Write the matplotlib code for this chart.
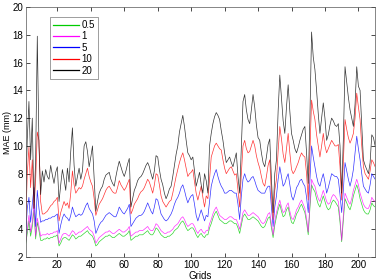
import matplotlib
matplotlib.use('Agg')
import matplotlib.pyplot as plt
import numpy as np

grids = np.arange(1, 211)

mae_20 = [6.0, 10.5, 13.2, 9.0, 12.0, 5.5, 9.0, 17.9, 10.0, 6.5,
          8.2, 7.4, 8.3, 7.8, 7.6, 8.6, 7.9, 7.3, 8.1, 8.5,
          6.0, 7.2, 8.3, 7.6, 6.8, 8.4, 7.4, 9.6, 11.3, 8.6,
          7.1, 7.8, 8.4, 7.6, 8.2, 10.0, 10.3, 9.6, 8.5, 9.2,
          10.0, 7.6, 5.3, 6.0, 6.6, 6.9, 7.1, 7.6, 7.9, 8.0,
          8.1, 7.6, 7.3, 7.1, 7.8, 8.4, 8.9, 8.5, 8.1, 7.8,
          8.2, 8.7, 9.1, 5.6, 6.2, 6.8, 7.1, 7.5, 7.7, 7.8,
          8.0, 8.3, 8.6, 8.8, 8.5, 8.0, 7.6, 8.2, 9.3, 9.2,
          8.3, 7.6, 7.2, 6.6, 6.2, 6.5, 6.9, 7.1, 7.8, 8.6,
          9.4, 10.0, 11.0, 11.6, 12.2, 11.4, 10.4, 9.5, 9.3, 9.0,
          9.2, 8.2, 7.1, 7.6, 8.1, 7.2, 6.6, 8.0, 7.5, 6.6,
          10.0, 10.9, 11.6, 12.1, 12.4, 12.2, 11.9, 11.1, 10.4, 9.5,
          8.8, 9.0, 9.2, 8.8, 8.5, 9.0, 9.5, 7.8, 6.6, 10.0,
          13.2, 13.7, 12.6, 11.9, 11.6, 12.6, 13.7, 12.8, 11.5, 10.6,
          10.4, 9.5, 8.8, 8.5, 9.2, 10.1, 10.5, 7.6, 5.2, 8.0,
          9.0, 12.5, 15.1, 13.5, 11.8, 10.9, 12.8, 14.4, 12.5, 10.9,
          10.4, 9.8, 9.5, 9.9, 10.4, 10.8, 11.2, 11.4, 9.5, 7.3,
          12.0, 18.2, 16.4, 15.5, 14.0, 12.3, 10.9, 12.0, 13.1, 12.0,
          10.4, 10.8, 11.5, 12.0, 11.8, 11.5, 11.4, 11.6, 10.0, 6.6,
          10.5, 15.7, 14.6, 13.5, 12.6, 12.0, 11.4, 13.0, 15.7, 14.3,
          14.0, 11.5, 9.0, 8.6, 8.3, 8.0, 8.8, 10.8, 10.6, 10.0]

mae_10 = [4.0, 8.0, 9.9, 7.0, 9.0, 5.5, 7.5, 11.0, 10.4, 6.0,
          5.1, 5.1, 5.2, 5.3, 5.5, 5.7, 5.8, 6.0, 6.1, 6.3,
          4.6, 5.2, 5.6, 6.0, 5.7, 5.9, 5.5, 6.6, 8.2, 7.2,
          6.6, 6.8, 7.0, 6.9, 7.1, 7.6, 8.0, 8.4, 7.8, 7.4,
          7.1, 6.2, 5.0, 5.4, 5.8, 6.0, 6.2, 6.5, 6.8, 7.0,
          7.1, 6.9, 6.7, 6.6, 6.6, 7.0, 7.5, 7.2, 7.0, 6.8,
          7.0, 7.3, 7.6, 5.1, 5.4, 5.8, 6.0, 6.2, 6.5, 6.7,
          6.8, 7.0, 7.3, 7.6, 7.4, 7.0, 6.6, 7.2, 8.0, 7.9,
          7.2, 6.4, 6.0, 5.8, 5.6, 5.8, 6.0, 6.1, 6.6, 7.2,
          7.8, 8.3, 8.8, 9.2, 9.5, 9.0, 8.4, 7.8, 8.0, 8.1,
          8.3, 7.4, 6.6, 6.1, 6.6, 7.1, 6.3, 5.6, 6.4, 6.2,
          7.6, 9.2, 9.6, 10.0, 10.2, 10.0, 9.8, 9.7, 9.0, 8.4,
          8.0, 8.2, 8.4, 8.5, 8.2, 7.9, 8.0, 6.8, 5.6, 8.0,
          10.0, 10.4, 9.8, 9.5, 9.6, 10.0, 10.4, 10.0, 9.3, 8.8,
          8.4, 7.8, 7.3, 7.1, 7.8, 8.6, 9.0, 6.5, 4.7, 6.8,
          7.6, 9.6, 11.4, 10.5, 9.4, 8.8, 9.8, 10.9, 9.5, 8.3,
          8.0, 8.2, 8.5, 8.8, 9.2, 9.5, 9.3, 9.2, 8.0, 6.1,
          9.5, 13.3, 12.5, 11.9, 10.8, 10.0, 9.2, 10.0, 10.9, 10.0,
          9.5, 9.8, 10.1, 10.4, 10.2, 10.0, 10.0, 10.1, 8.5, 6.1,
          8.8, 11.9, 11.2, 10.6, 10.2, 10.5, 10.9, 12.0, 13.8, 12.8,
          11.9, 10.0, 8.5, 8.0, 7.8, 7.6, 8.2, 9.0, 8.8, 8.5]

mae_5 = [3.5, 5.5, 6.3, 4.5, 5.8, 7.0, 4.2, 6.8, 5.5, 4.5,
         4.6, 4.6, 4.7, 4.7, 4.8, 4.8, 4.9, 4.9, 5.0, 5.1,
         3.7, 4.3, 4.8, 5.1, 4.9, 4.8, 4.6, 5.0, 5.6, 5.2,
         4.9, 5.0, 5.1, 5.0, 5.1, 5.4, 5.7, 5.9, 5.5, 5.3,
         5.1, 4.6, 3.7, 4.0, 4.3, 4.5, 4.6, 4.8, 5.0, 5.1,
         5.2, 5.1, 5.0, 4.9, 4.9, 5.2, 5.6, 5.4, 5.2, 5.1,
         5.3, 5.5, 5.8, 4.2, 4.4, 4.6, 4.8, 4.9, 5.0, 5.0,
         5.1, 5.3, 5.6, 5.9, 5.6, 5.3, 5.1, 5.6, 6.2, 6.1,
         5.6, 5.1, 4.9, 4.7, 4.6, 4.7, 4.9, 5.1, 5.4, 5.8,
         6.1, 6.3, 6.6, 7.0, 7.2, 6.8, 6.3, 5.9, 6.2, 6.4,
         6.5, 5.8, 5.0, 4.6, 5.0, 5.4, 5.0, 4.6, 5.0, 4.9,
         6.0, 7.1, 7.6, 8.0, 8.3, 7.8, 7.4, 7.1, 6.9, 6.6,
         6.6, 6.7, 6.8, 6.8, 6.7, 6.6, 6.6, 5.8, 4.7, 6.4,
         7.6, 8.0, 7.6, 7.4, 7.5, 7.7, 7.8, 7.5, 7.1, 6.8,
         6.7, 6.6, 6.6, 6.6, 6.9, 7.1, 7.1, 5.6, 4.2, 5.6,
         6.4, 7.6, 8.5, 7.8, 7.1, 7.3, 7.7, 8.0, 7.2, 6.4,
         6.1, 6.5, 7.0, 7.2, 7.5, 7.6, 7.3, 7.1, 6.3, 5.2,
         7.5, 10.0, 9.2, 8.5, 7.8, 7.3, 7.1, 7.6, 8.0, 7.4,
         6.6, 7.0, 7.5, 8.0, 7.9, 7.8, 7.8, 7.6, 6.5, 5.2,
         6.8, 8.8, 8.2, 7.6, 7.1, 7.6, 8.3, 9.5, 10.7, 9.8,
         9.0, 8.0, 7.1, 6.9, 6.7, 6.6, 7.2, 8.0, 7.8, 7.6]

mae_1 = [3.0, 4.0, 5.0, 3.8, 4.5, 5.8, 3.5, 4.8, 4.2, 3.5,
         3.6, 3.6, 3.6, 3.7, 3.6, 3.7, 3.7, 3.8, 3.8, 3.9,
         3.0, 3.3, 3.6, 3.7, 3.7, 3.6, 3.5, 3.7, 3.9, 3.8,
         3.6, 3.7, 3.8, 3.8, 3.9, 4.0, 4.1, 4.2, 4.0, 3.9,
         3.8, 3.5, 3.0, 3.2, 3.4, 3.5, 3.6, 3.7, 3.8, 3.8,
         3.9, 3.8, 3.7, 3.7, 3.8, 3.9, 4.0, 3.9, 3.8, 3.8,
         3.9, 4.0, 4.2, 3.5, 3.6, 3.7, 3.8, 3.8, 3.9, 3.9,
         3.9, 4.0, 4.1, 4.2, 4.0, 3.9, 3.9, 4.1, 4.4, 4.3,
         4.1, 3.9, 3.8, 3.7, 3.7, 3.8, 3.8, 3.9, 4.0, 4.2,
         4.3, 4.4, 4.6, 4.8, 4.9, 4.7, 4.4, 4.2, 4.3, 4.4,
         4.4, 4.2, 3.9, 3.7, 3.9, 4.0, 3.8, 3.7, 3.9, 3.9,
         4.4, 4.7, 5.1, 5.4, 5.6, 5.3, 5.0, 4.9, 4.8, 4.7,
         4.7, 4.8, 4.9, 4.9, 4.8, 4.7, 4.7, 4.4, 4.0, 4.6,
         5.2, 5.4, 5.2, 5.0, 5.0, 5.1, 5.2, 5.1, 5.0, 4.9,
         4.7, 4.5, 4.4, 4.5, 4.8, 5.1, 5.2, 4.4, 3.6, 4.6,
         5.2, 5.7, 6.1, 5.6, 5.2, 5.3, 5.7, 5.9, 5.3, 4.8,
         4.7, 5.0, 5.4, 5.6, 5.9, 6.1, 5.8, 5.5, 4.8, 3.8,
         5.8, 7.6, 7.3, 7.1, 6.6, 6.2, 6.0, 6.4, 6.8, 6.4,
         6.0, 5.8, 5.9, 6.3, 6.5, 6.4, 6.2, 6.0, 4.8, 3.2,
         5.0, 6.6, 6.3, 6.0, 5.8, 6.2, 6.8, 7.2, 7.6, 7.2,
         6.6, 6.2, 5.8, 5.6, 5.5, 5.5, 5.8, 6.3, 6.1, 6.0]

mae_05 = [2.9, 3.7, 4.6, 3.5, 4.2, 5.4, 3.3, 4.5, 3.9, 3.2,
          3.2, 3.3, 3.3, 3.4, 3.3, 3.4, 3.4, 3.5, 3.5, 3.6,
          2.8, 3.0, 3.3, 3.4, 3.4, 3.3, 3.2, 3.4, 3.6, 3.5,
          3.3, 3.4, 3.5, 3.5, 3.6, 3.7, 3.8, 3.9, 3.7, 3.6,
          3.5, 3.2, 2.8, 2.9, 3.1, 3.2, 3.3, 3.4, 3.5, 3.5,
          3.6, 3.5, 3.4, 3.4, 3.5, 3.6, 3.7, 3.6, 3.5, 3.5,
          3.6, 3.7, 3.9, 3.2, 3.3, 3.4, 3.5, 3.5, 3.6, 3.6,
          3.6, 3.7, 3.8, 3.9, 3.7, 3.6, 3.6, 3.8, 4.1, 4.0,
          3.8, 3.6, 3.5, 3.4, 3.4, 3.5, 3.5, 3.6, 3.7, 3.9,
          4.0, 4.1, 4.3, 4.5, 4.6, 4.4, 4.1, 3.9, 4.0, 4.1,
          4.1, 3.9, 3.6, 3.4, 3.6, 3.7, 3.5, 3.4, 3.6, 3.6,
          4.1, 4.4, 4.8, 5.1, 5.3, 5.0, 4.7, 4.6, 4.5, 4.4,
          4.4, 4.5, 4.6, 4.6, 4.5, 4.4, 4.4, 4.1, 3.7, 4.3,
          4.9, 5.1, 4.9, 4.7, 4.7, 4.8, 4.9, 4.8, 4.7, 4.6,
          4.4, 4.2, 4.1, 4.2, 4.5, 4.8, 4.9, 4.1, 3.4, 4.3,
          4.9, 5.4, 5.8, 5.3, 4.9, 5.0, 5.4, 5.6, 5.0, 4.5,
          4.4, 4.7, 5.1, 5.3, 5.6, 5.8, 5.5, 5.2, 4.5, 3.6,
          5.5, 7.2, 6.9, 6.7, 6.2, 5.8, 5.6, 6.0, 6.4, 6.0,
          5.6, 5.4, 5.5, 5.9, 6.1, 6.0, 5.8, 5.6, 4.5, 3.1,
          4.7, 6.2, 5.9, 5.6, 5.4, 5.8, 6.4, 6.8, 7.2, 6.8,
          6.2, 5.8, 5.4, 5.2, 5.1, 5.1, 5.4, 5.9, 5.7, 5.6]

labels = ['0.5', '1', '5', '10', '20']
colors = ['#00cc00', '#ff00ff', '#0000ff', '#ff0000', '#000000']

plt.rcParams['font.family'] = ['Liberation Sans', 'DejaVu Sans']
fig = plt.figure(figsize=(3.82, 2.80), dpi=100)
ax1 = fig.add_axes([0.067, 0.082, 0.915, 0.893])

for series, lab, col in zip([mae_05, mae_1, mae_5, mae_10, mae_20], labels, colors):
    ax1.plot(grids, series, '-', color=col, linewidth=0.5, alpha=0.8, label=lab)

ax1.set_xlim(1, 210)
ax1.set_ylim(2, 20)
ax1.set_xticks(np.arange(20, 201, 20))
ax1.set_yticks(np.arange(2, 21, 2))
ax1.tick_params(direction='in', length=3, width=0.5, labelsize=7,
                top=True, right=True, pad=2)
for sp in ax1.spines.values():
    sp.set_linewidth(0.5)
    sp.set_color('#555555')

ax1.set_xlabel('Grids', fontsize=7, labelpad=1)
ax1.set_ylabel('MAE (mm)', fontsize=6.5, labelpad=0)

leg = ax1.legend(loc='upper left', bbox_to_anchor=(0.071, 0.96), fontsize=7,
                 frameon=True, fancybox=False, borderaxespad=0, handlelength=2.6,
                 handletextpad=0.3, labelspacing=0.15, borderpad=0.3)
for h in leg.get_lines():
    h.set_linewidth(0.9)
    h.set_alpha(1)
leg.get_frame().set_edgecolor('#555555')
leg.get_frame().set_linewidth(0.5)

fig.savefig('out.png', dpi=100)
